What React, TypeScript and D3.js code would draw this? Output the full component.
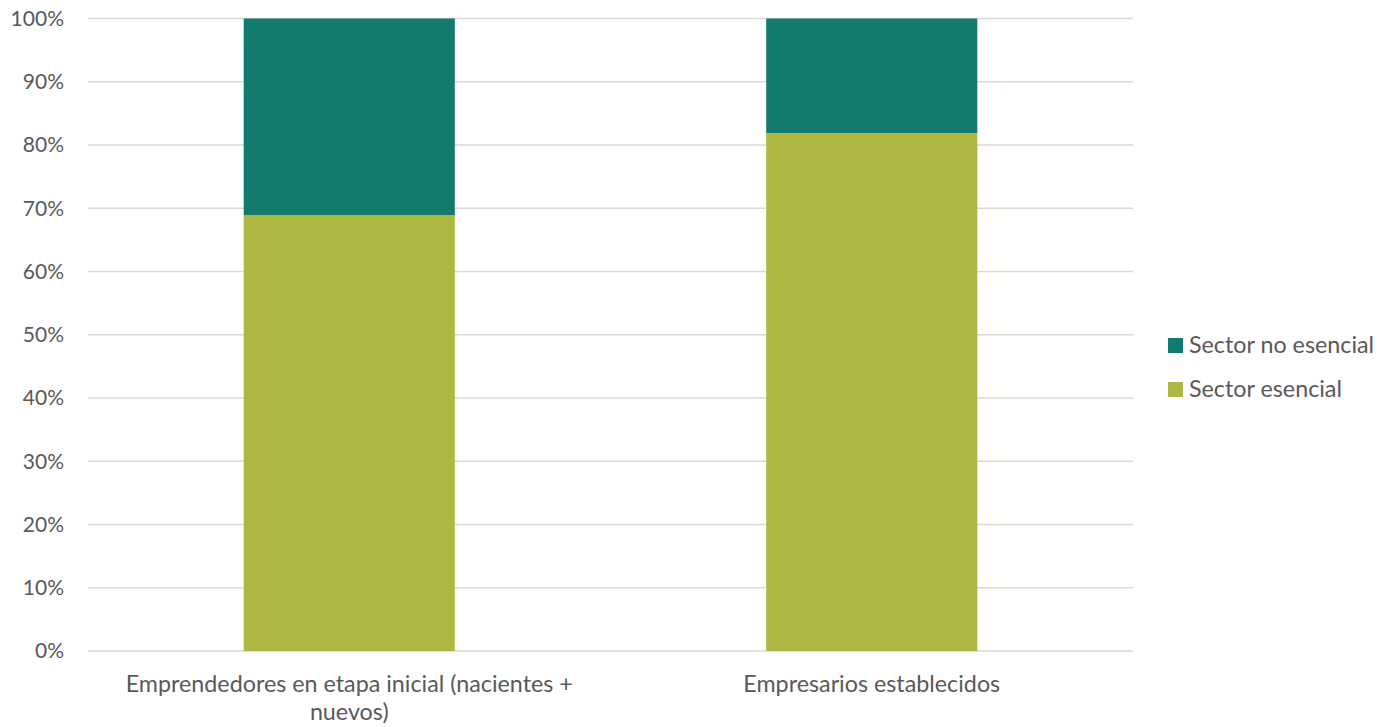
import React from "react";
import * as d3 from "d3";

const categories = ["Emprendedores en etapa inicial (nacientes + nuevos)", "Empresarios establecidos"];
const categoryLines = [["Emprendedores en etapa inicial (nacientes +", "nuevos)"], ["Empresarios establecidos"]];
const esencial = [68.9, 81.9];
const noEsencial = [31.1, 18.1];
const yTicks = [0, 10, 20, 30, 40, 50, 60, 70, 80, 90, 100];
const seriesNames = ["Sector no esencial", "Sector esencial"];
const colors = ["#137B6D", "#ADB741"];

export default function App() {
  const W = 1389, H = 727;
  const left = 88, right = 1133, top = 18.5, bottom = 651;
  const x = d3.scaleBand<string>().domain(categories).range([left, right]).padding(0);
  const y = d3.scaleLinear().domain([0, 100]).range([bottom, top]);
  const barW = x.bandwidth() * 0.404;
  const font = "Lato, sans-serif";
  const fs = 23.3;
  return (
    <svg width={W} height={H} style={{ position: "absolute", left: 0, top: 0 }} fontFamily={font}>
      <rect width={W} height={H} fill="#fff" />
      {yTicks.map((t) => (
        <g key={t}>
          <line x1={left} x2={right} y1={y(t)} y2={y(t)} stroke="#d9d9d9" strokeWidth={1.3} />
          <text x={64} y={y(t)} dy="0.35em" textAnchor="end" fontSize={21} fill="#595959">{t}%</text>
        </g>
      ))}
      {categories.map((c, i) => {
        const cx = x(c)! + x.bandwidth() / 2;
        return (
          <g key={c}>
            <rect x={cx - barW / 2} width={barW} y={y(esencial[i])} height={y(0) - y(esencial[i])} fill={colors[1]} />
            <rect x={cx - barW / 2} width={barW} y={y(esencial[i] + noEsencial[i])} height={y(esencial[i]) - y(esencial[i] + noEsencial[i])} fill={colors[0]} />
            {categoryLines[i].map((ln, j) => (
              <text key={j} x={cx} y={684 + j * 28} dy="0.35em" textAnchor="middle" fontSize={fs} fill="#595959">{ln}</text>
            ))}
          </g>
        );
      })}
      {seriesNames.map((s, i) => (
        <g key={s}>
          <rect x={1168} y={338 + i * 44} width={15} height={15} fill={colors[i]} />
          <text x={1189} y={345 + i * 44} dy="0.35em" fontSize={fs} fill="#595959">{s}</text>
        </g>
      ))}
    </svg>
  );
}
